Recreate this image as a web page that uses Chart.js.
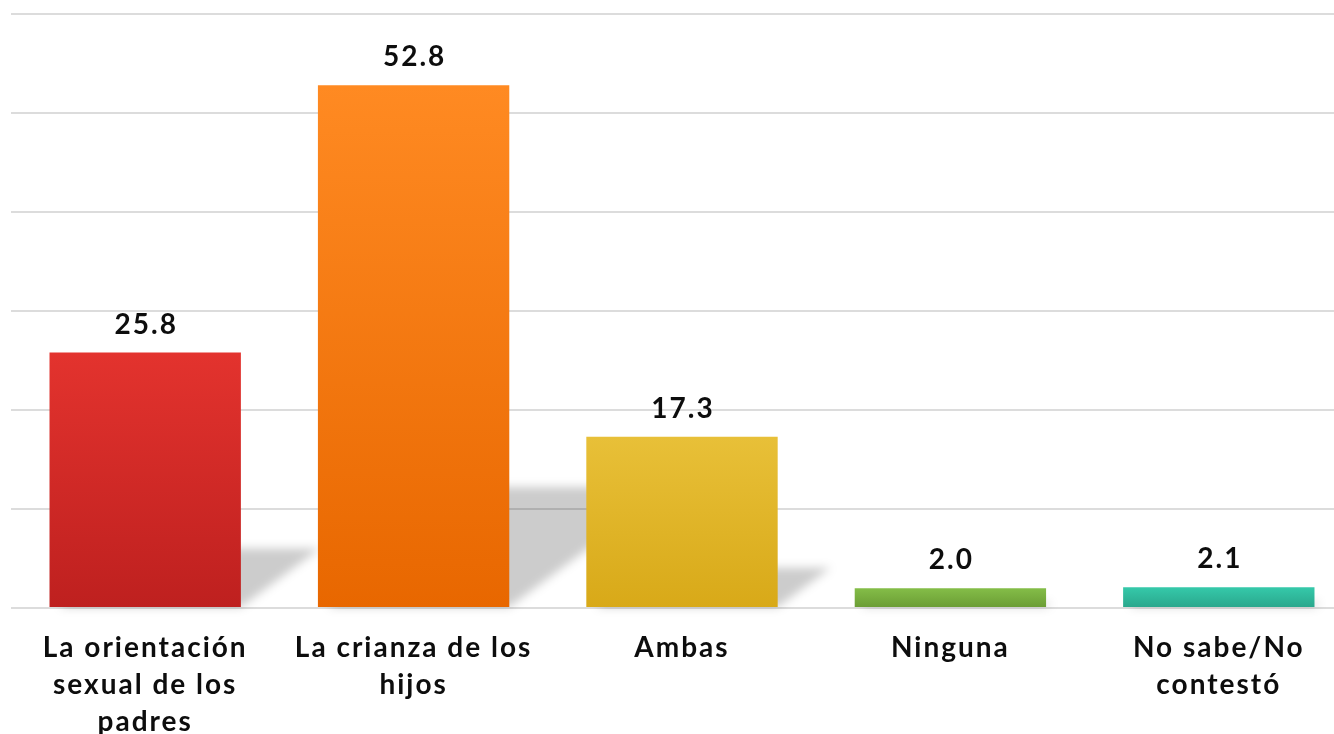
<!DOCTYPE html>
<html>
<head>
<meta charset="utf-8">
<script src="https://cdn.jsdelivr.net/npm/chart.js@4.4.1/dist/chart.umd.min.js"></script>
<style>
  html, body { margin: 0; padding: 0; background: #fff; overflow: hidden; }
  #wrap { position: relative; width: 1353px; height: 734px; }
</style>
</head>
<body>
<div id="wrap"><canvas id="respChart"></canvas></div>
<script>
const categories = [
    ['La orientación', 'sexual de los', 'padres'],
    ['La crianza de los', 'hijos'],
    ['Ambas'],
    ['Ninguna'],
    ['No sabe/No', 'contestó']
];
const values = [25.8, 52.8, 17.3, 2.0, 2.1];
const topColors = ['#e3332e', '#ff8a22', '#e8c038', '#84bd48', '#35c9aa'];
const bottomColors = ['#be201f', '#e86700', '#d8a918', '#6a9c34', '#2aa68b'];
const yTicks = [0, 10, 20, 30, 40, 50, 60];

const FONT = 'Lato, "DejaVu Sans", sans-serif';

function barGradient(ctx) {
    const chart = ctx.chart;
    const area = chart.chartArea;
    if (!area) return topColors[ctx.dataIndex];
    const yScale = chart.scales.y;
    const top = yScale.getPixelForValue(values[ctx.dataIndex]);
    const base = yScale.getPixelForValue(0);
    const g = chart.ctx.createLinearGradient(0, top, 0, base);
    g.addColorStop(0, topColors[ctx.dataIndex]);
    g.addColorStop(1, bottomColors[ctx.dataIndex]);
    return g;
}

// wider letters, closer to the original geometric font
const spacing = {
    id: 'spacing',
    beforeDraw(chart) { chart.ctx.letterSpacing = '2px'; }
};

// slanted grey shadow behind each bar
const shadowPlugin = {
    id: 'barShadow',
    beforeDatasetsDraw(chart) {
        const c = chart.ctx;
        const meta = chart.getDatasetMeta(0);
        c.save();
        c.filter = 'blur(5px)';
        c.fillStyle = 'rgba(0,0,0,0.2)';
        meta.data.forEach(bar => {
            const left = bar.x - bar.width / 2;
            const right = bar.x + bar.width / 2;
            const h = bar.base - bar.y;
            const sh = h * 0.23;
            const dx = sh * 1.35;
            c.beginPath();
            c.moveTo(left + 10, bar.base);
            c.lineTo(right, bar.base);
            c.lineTo(right + dx, bar.base - sh);
            c.lineTo(left + dx, bar.base - sh);
            c.closePath();
            c.fill();
        });
        c.restore();
    }
};

const valueLabels = {
    id: 'valueLabels',
    afterDatasetsDraw(chart) {
        const c = chart.ctx;
        const meta = chart.getDatasetMeta(0);
        c.save();
        c.font = 'bold 28px ' + FONT;
        c.fillStyle = '#0d0d0d';
        c.textAlign = 'center';
        c.textBaseline = 'bottom';
        meta.data.forEach((bar, i) => {
            c.fillText(values[i].toFixed(1), bar.x + 1, bar.y - 14);
        });
        c.restore();
    }
};

new Chart(document.getElementById('respChart'), {
    type: 'bar',
    data: {
        labels: categories,
        datasets: [{
            data: values,
            backgroundColor: barGradient,
            borderWidth: 0,
            categoryPercentage: 1,
            barPercentage: 0.713
        }]
    },
    options: {
        responsive: true,
        maintainAspectRatio: false,
        animation: false,
        layout: { padding: { left: 11, top: 14, right: 0, bottom: 0 } },
        plugins: { legend: { display: false }, tooltip: { enabled: false } },
        scales: {
            x: {
                grid: { display: false },
                border: { display: false },
                ticks: {
                    color: '#0d0d0d',
                    font: { family: FONT, size: 28, weight: 'bold', lineHeight: 1.33 },
                    padding: 13,
                    maxRotation: 0,
                    autoSkip: false
                },
                afterFit(scale) { scale.height = 126; }
            },
            y: {
                min: 0,
                max: 60,
                afterBuildTicks(scale) { scale.ticks = yTicks.map(v => ({ value: v })); },
                ticks: { display: false },
                border: { display: false },
                grid: { color: '#dcdcdc', lineWidth: 2, drawTicks: false },
                afterFit(scale) { scale.width = 0; }
            }
        }
    },
    plugins: [spacing, shadowPlugin, valueLabels]
});
</script>
</body>
</html>
